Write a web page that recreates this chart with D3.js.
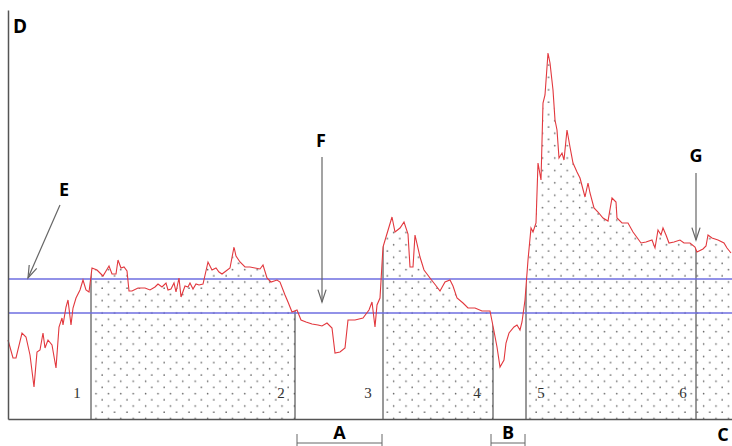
<!DOCTYPE html>
<html>
<head>
<meta charset="utf-8">
<script src="https://cdn.jsdelivr.net/npm/d3@7"></script>
<style>
  body { margin: 0; background: #fff; }
  svg { display: block; }
</style>
</head>
<body>
<div id="chart"></div>
<script>
// signal trace (time, level)
var signalTime = [0,5,8,14,18,22,26,29,32,35,37,40,44,48,51,54,55,58,60,63,65,68,72,75,78,81,
  84,89,95,101,104,108,110,113,116,119,121,124,130,137,142,147,150,154,158,160,163,166,168,171,173,177,180,182,185,188,191,
  195,200,204,208,211,214,218,222,226,228,232,237,242,247,252,255,259,263,269,272,277,280,284,289,
  293,298,304,310,314,319,324,327,332,337,340,347,355,361,364,367,369,372,
  375,378,384,387,392,396,400,402,405,407,412,416,422,429,432,437,442,445,449,455,460,467,474,482,
  485,489,492,496,498,501,506,509,512,514,517,
  520,523,525,528,530,533,535,537,540,542,545,547,549,551,554,556,559,562,565,569,572,577,580,582,586,590,595,600,
  604,608,609,614,620,625,633,638,644,647,650,653,655,658,661,666,672,676,682,687,689,695,698,700,704,710,716,719,723];
var signalLevel = [79,61,61,86,82,64,32,67,69,86,71,79,74,51,92,101,94,112,119,94,111,121,129,139,129,127,
  151,149,143,153,145,145,159,151,152,148,128,128,131,131,129,132,135,132,136,129,130,136,127,141,122,133,132,136,130,135,134,
  135,157,149,151,147,145,148,151,172,163,157,152,152,151,150,154,141,137,139,137,124,117,107,109,
  99,97,95,94,93,96,91,66,67,71,99,99,101,109,117,92,114,121,
  172,182,202,187,191,197,185,152,152,184,162,149,141,132,128,137,139,133,121,116,111,111,108,108,
  93,72,52,59,76,86,92,94,89,97,119,
  159,191,187,196,256,239,316,324,366,356,329,299,289,261,266,259,289,272,256,247,241,222,236,226,211,207,201,198,
  221,217,201,196,196,187,176,177,179,171,189,184,191,184,176,177,179,176,176,172,167,170,173,184,181,179,176,171,166];

var thresholds = [140, 106];
var zones = [[83, 287], [375, 485], [518, 724]];
var boundaryMarks = [83, 287, 375, 485, 518, 688];
var zoneNumbers = ["1", "2", "3", "4", "5", "6"];
var zoneNumberTime = [69, 273, 360, 469, 533, 675];
var spans = ["A", "B"];
var spanStart = [289, 483];
var spanEnd = [374, 517];

var width = 732, height = 446;
var margin = {left: 8, right: 0, top: 10, bottom: 27};

var svg = d3.select("#chart").append("svg")
    .attr("width", width)
    .attr("height", height);

var x = d3.scaleLinear().domain([0, 724]).range([margin.left, width - margin.right]);
var y = d3.scaleLinear().domain([0, 409]).range([height - margin.bottom, margin.top]);

var data = signalTime.map(function (t, i) { return {t: t, v: signalLevel[i]}; });

var defs = svg.append("defs");
var pat = defs.append("pattern")
    .attr("id", "dots")
    .attr("patternUnits", "userSpaceOnUse")
    .attr("width", 12.4).attr("height", 12.4);
pat.append("rect").attr("width", 12.4).attr("height", 12.4).attr("fill", "#fff");
pat.append("circle").attr("cx", 3).attr("cy", 3).attr("r", 0.8).attr("fill", "#666");
pat.append("circle").attr("cx", 9.2).attr("cy", 9.2).attr("r", 0.8).attr("fill", "#666");

// area under the curve, used as clip
var area = d3.area()
    .x(function (d) { return x(d.t); })
    .y0(y(0))
    .y1(function (d) { return y(d.v); });
defs.append("clipPath").attr("id", "under")
    .append("path").attr("d", area(data));

var under = svg.append("g").attr("clip-path", "url(#under)");
under.selectAll("rect.zone")
    .data(zones)
    .enter()
    .append("rect")
    .attr("class", "zone")
    .attr("x", function (d) { return x(d[0]); })
    .attr("width", function (d) { return x(d[1]) - x(d[0]); })
    .attr("y", y(409))
    .attr("height", y(0) - y(409))
    .attr("fill", "url(#dots)");

under.selectAll("line.mark")
    .data(boundaryMarks)
    .enter()
    .append("line")
    .attr("class", "mark")
    .attr("x1", function (d) { return x(d); })
    .attr("x2", function (d) { return x(d); })
    .attr("y1", y(0))
    .attr("y2", y(409))
    .attr("stroke", "#333")
    .attr("stroke-width", 1);

// threshold lines
svg.selectAll("line.thr")
    .data(thresholds)
    .enter()
    .append("line")
    .attr("class", "thr")
    .attr("x1", x(0)).attr("x2", x(724))
    .attr("y1", function (d) { return y(d); })
    .attr("y2", function (d) { return y(d); })
    .attr("stroke", "#6e6ee0")
    .attr("stroke-width", 1.3);

// signal line
var line = d3.line()
    .x(function (d) { return x(d.t); })
    .y(function (d) { return y(d.v); });
svg.append("path")
    .attr("d", line(data))
    .attr("fill", "none")
    .attr("stroke", "#e2383e")
    .attr("stroke-width", 1.1);

// axes without ticks
svg.append("g")
    .attr("transform", "translate(0," + y(0) + ")")
    .call(d3.axisBottom(x).tickValues([]).tickSizeOuter(0))
    .select(".domain").attr("stroke", "#555").attr("stroke-width", 1.5);
svg.append("g")
    .attr("transform", "translate(" + x(0) + ",0)")
    .call(d3.axisLeft(y).tickValues([]).tickSizeOuter(0))
    .select(".domain").attr("stroke", "#555").attr("stroke-width", 1.5);

// zone numbers
svg.selectAll("text.num")
    .data(zoneNumbers)
    .enter()
    .append("text")
    .attr("class", "num")
    .attr("x", function (d, i) { return x(zoneNumberTime[i]); })
    .attr("y", 398)
    .attr("text-anchor", "middle")
    .attr("font-family", "Liberation Serif, serif")
    .attr("font-size", 15)
    .attr("fill", "#333")
    .text(function (d) { return d; });

// spans A / B under the axis
spans.forEach(function (s, i) {
    var x0 = x(spanStart[i]), x1 = x(spanEnd[i]);
    var g = svg.append("g").attr("stroke", "#666").attr("stroke-width", 1);
    g.append("line").attr("x1", x0).attr("x2", x1).attr("y1", 443).attr("y2", 443);
    g.append("line").attr("x1", x0).attr("x2", x0).attr("y1", 434).attr("y2", 446);
    g.append("line").attr("x1", x1).attr("x2", x1).attr("y1", 434).attr("y2", 446);
    svg.append("text")
        .attr("x", (x0 + x1) / 2)
        .attr("y", 439)
        .attr("text-anchor", "middle")
        .attr("font-family", "Open Sans, sans-serif")
        .attr("font-weight", "bold")
        .attr("font-size", 18)
        .text(s);
});

// arrows
function arrow(t0, v0, t1, v1) {
    var xa = x(t0), ya = y(v0), xb = x(t1), yb = y(v1);
    var ang = Math.atan2(yb - ya, xb - xa), len = 13, spread = 0.32;
    var g = svg.append("g").attr("stroke", "#666").attr("stroke-width", 1.2).attr("fill", "none");
    g.append("line").attr("x1", xa).attr("y1", ya).attr("x2", xb).attr("y2", yb);
    g.append("path").attr("d",
        "M" + (xb - len * Math.cos(ang - spread)) + "," + (yb - len * Math.sin(ang - spread)) +
        "L" + xb + "," + yb +
        "L" + (xb - len * Math.cos(ang + spread)) + "," + (yb - len * Math.sin(ang + spread)));
}
arrow(52, 214, 20, 141);
arrow(314, 262, 314, 117);
arrow(688, 246, 688, 179);

// letters
var letters = [["D", 20, 33], ["E", 64, 196], ["F", 321, 147], ["G", 696, 162], ["C", 723, 441]];
svg.selectAll("text.let")
    .data(letters)
    .enter()
    .append("text")
    .attr("class", "let")
    .attr("x", function (d) { return d[1]; })
    .attr("y", function (d) { return d[2]; })
    .attr("text-anchor", "middle")
    .attr("font-family", "Open Sans, sans-serif")
    .attr("font-weight", "bold")
    .attr("font-size", function (d) { return d[0] === "D" ? 19 : 18; })
    .text(function (d) { return d[0]; });
</script>
</body>
</html>
